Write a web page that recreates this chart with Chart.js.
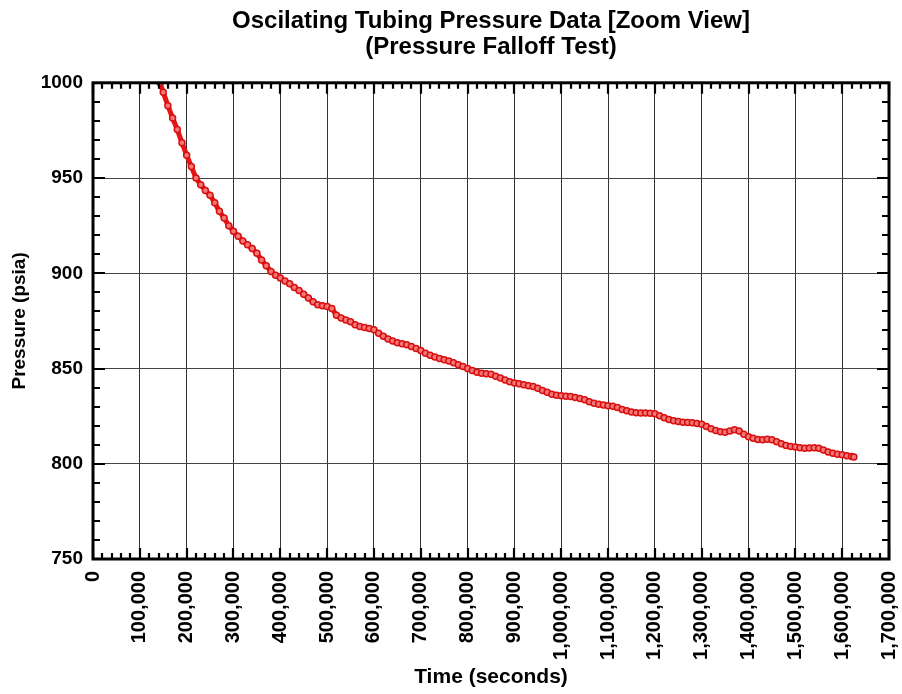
<!DOCTYPE html>
<html>
<head>
<meta charset="utf-8">
<script src="https://cdn.jsdelivr.net/npm/chart.js@4/dist/chart.umd.min.js"></script>
<style>
  html, body { margin: 0; padding: 0; background: #fff; }
  #wrap { width: 902px; height: 694px; }
</style>
</head>
<body>
<div id="wrap"><canvas id="c" width="902" height="694"></canvas></div>
<script>
const chartTitle = ['Oscilating Tubing Pressure Data [Zoom View]', '(Pressure Falloff Test)'];
const xAxisTitle = 'Time (seconds)';
const yAxisTitle = 'Pressure (psia)';

const xTickValues = [0,100000,200000,300000,400000,500000,600000,700000,800000,900000,1000000,1100000,1200000,1300000,1400000,1500000,1600000,1700000];
const yTickValues = [750,800,850,900,950,1000];

const timeSeconds = [
  143000,150000,160000,170000,180000,190000,200000,210000,220000,230000,
  240000,250000,260000,270000,280000,290000,300000,310000,320000,330000,
  340000,350000,360000,370000,380000,390000,400000,410000,420000,430000,
  440000,450000,460000,470000,480000,490000,500000,510000,520000,530000,
  540000,550000,560000,570000,580000,590000,600000,610000,620000,630000,
  640000,650000,660000,670000,680000,690000,700000,710000,720000,730000,
  740000,750000,760000,770000,780000,790000,800000,810000,820000,830000,
  840000,850000,860000,870000,880000,890000,900000,910000,920000,930000,
  940000,950000,960000,970000,980000,990000,1000000,1010000,1020000,1030000,
  1040000,1050000,1060000,1070000,1080000,1090000,1100000,1110000,1120000,1130000,
  1140000,1150000,1160000,1170000,1180000,1190000,1200000,1210000,1220000,1230000,
  1240000,1250000,1260000,1270000,1280000,1290000,1300000,1310000,1320000,1330000,
  1340000,1350000,1360000,1370000,1380000,1390000,1400000,1410000,1420000,1430000,
  1440000,1450000,1460000,1470000,1480000,1490000,1500000,1510000,1520000,1530000,
  1540000,1550000,1560000,1570000,1580000,1590000,1600000,1610000,1620000,1625000
];
const pressurePsia = [
  1000.0,995.0,988.0,981.5,975.5,968.5,962.0,956.0,950.0,946.5,
  943.5,941.0,937.0,932.5,929.0,925.0,922.0,919.5,917.0,915.0,
  913.0,910.5,907.0,904.0,901.0,899.0,897.5,896.0,894.5,892.5,
  891.0,889.0,887.0,885.0,883.5,883.0,882.5,881.5,878.0,876.5,
  875.5,874.5,873.0,872.0,871.5,871.0,870.3,868.5,867.0,865.5,
  864.5,863.5,863.0,862.5,861.5,860.5,859.5,858.0,857.0,856.0,
  855.2,854.6,854.0,853.0,852.0,851.0,850.0,849.0,848.0,847.5,
  847.3,847.0,846.0,845.0,844.0,843.0,842.4,842.0,841.5,841.0,
  840.5,839.7,838.5,837.5,836.5,836.0,835.7,835.5,835.3,834.8,
  834.2,833.6,832.5,831.8,831.2,830.8,830.5,830.2,829.5,828.5,
  827.8,827.2,826.8,826.6,826.6,826.5,826.2,825.2,824.2,823.3,
  822.6,822.2,821.8,821.6,821.5,821.2,820.8,819.6,818.4,817.4,
  816.8,816.5,817.2,817.8,817.2,815.5,814.2,813.4,812.8,812.6,
  812.9,812.6,811.5,810.5,809.6,809.0,808.8,808.4,808.2,808.3,
  808.4,808.2,807.2,806.2,805.5,805.0,804.7,804.2,803.8,803.5
];

const FONT = "'Liberation Sans', Arial, Helvetica, sans-serif";

const frameTicks = {
  id: 'frameTicks',
  afterDatasetsDraw(chart) {
    const {ctx, chartArea: {left, right, top, bottom}, scales: {x, y}} = chart;
    ctx.save();
    ctx.strokeStyle = '#000';
    ctx.lineWidth = 2.2;
    ctx.beginPath();
    for (let v = x.min; v <= x.max; v += 20000) {
      const px = Math.round(x.getPixelForValue(v));
      const len = (v % 100000 === 0) ? 11 : 6;
      ctx.moveTo(px, bottom); ctx.lineTo(px, bottom - len);
      ctx.moveTo(px, top); ctx.lineTo(px, top + len);
    }
    for (let v = y.min; v <= y.max; v += 10) {
      const py = Math.round(y.getPixelForValue(v));
      const len = (v % 50 === 0) ? 12 : 7;
      ctx.moveTo(left, py); ctx.lineTo(left + len, py);
      ctx.moveTo(right, py); ctx.lineTo(right - len, py);
    }
    ctx.stroke();
    ctx.lineWidth = 3;
    ctx.strokeRect(left, top, right - left, bottom - top);
    ctx.restore();
  }
};

new Chart(document.getElementById('c'), {
  type: 'scatter',
  data: {
    datasets: [{
      label: 'Tubing Pressure',
      data: timeSeconds.map((t, i) => ({x: t, y: pressurePsia[i]})),
      showLine: true,
      borderColor: 'rgb(232,20,20)',
      borderWidth: 5,
      pointRadius: 3,
      pointBorderWidth: 1.5,
      pointBorderColor: 'rgb(215,15,15)',
      pointBackgroundColor: 'rgb(245,120,120)',
      tension: 0
    }]
  },
  options: {
    responsive: false,
    animation: false,
    layout: { padding: 0 },
    plugins: {
      legend: { display: false },
      tooltip: { enabled: false },
      title: {
        display: true,
        fullSize: false,
        text: chartTitle,
        color: '#000',
        font: { family: FONT, size: 24, weight: 'bold', lineHeight: 1.1 },
        padding: { top: 8, bottom: 22 }
      }
    },
    scales: {
      x: {
        type: 'linear',
        min: 0, max: 1700000,
        afterBuildTicks: s => { s.ticks = xTickValues.map(v => ({value: v})); },
        afterFit: s => { s.height = 135; s.paddingRight = 13; s.paddingLeft = 0; },
        ticks: {
          autoSkip: false, maxRotation: 90, minRotation: 90, padding: 12,
          color: '#000',
          font: { family: FONT, size: 20, weight: 'bold' },
          callback: v => Number(v).toLocaleString('en-US')
        },
        grid: { color: '#333', lineWidth: 1, drawTicks: false },
        border: { display: false },
        title: {
          display: true, text: xAxisTitle, color: '#000',
          font: { family: FONT, size: 21, weight: 'bold' },
          padding: { top: 0, bottom: 4 }
        }
      },
      y: {
        type: 'linear',
        min: 750, max: 1000,
        afterBuildTicks: s => { s.ticks = yTickValues.map(v => ({value: v})); },
        afterFit: s => { s.width = 93; },
        ticks: {
          padding: 10, color: '#000',
          font: { family: FONT, size: 19, weight: 'bold' },
          callback: v => String(v)
        },
        grid: { color: '#444', lineWidth: 1, drawTicks: false },
        border: { display: false },
        title: {
          display: true, text: yAxisTitle, color: '#000',
          font: { family: FONT, size: 19, weight: 'bold' },
          padding: { top: 8, bottom: 0 }
        }
      }
    }
  },
  plugins: [frameTicks]
});
</script>
</body>
</html>
